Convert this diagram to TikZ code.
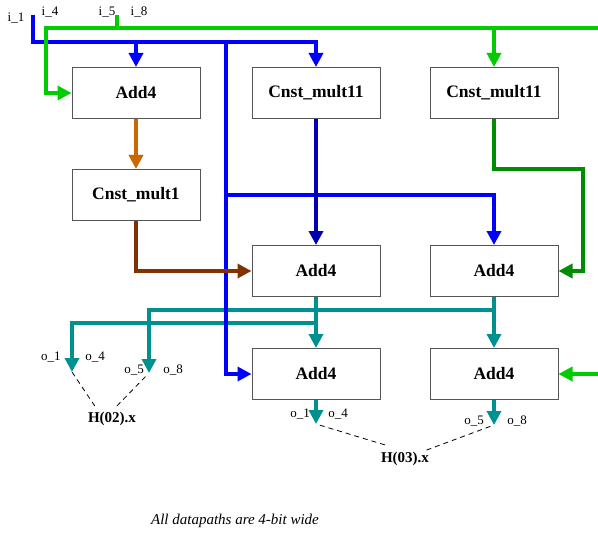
\documentclass[tikz,border=0pt]{standalone}
\usepackage{fontspec}
\setmainfont{Liberation Serif}
\usepackage{xcolor}
\usetikzlibrary{arrows.meta, positioning}
\definecolor{busblue}{HTML}{0000FF}
\definecolor{busgreen}{HTML}{00CC00}
\definecolor{busorange}{HTML}{CC6600}
\definecolor{busbrown}{HTML}{803300}
\definecolor{busnavy}{HTML}{0000B0}
\definecolor{busdkgreen}{HTML}{008C00}
\definecolor{busteal}{HTML}{009090}
\definecolor{boxline}{HTML}{555555}

\begin{document}
\begin{tikzpicture}[
    x=1pt, y=-1pt,
    node distance=50pt,
    block/.style={draw=boxline, line width=1pt, fill=white, minimum width=128pt, minimum height=51pt, inner sep=0pt, font=\fontsize{17.5}{20}\selectfont\bfseries},
    bus/.style={line width=4.5pt, draw=#1},
    busarrow/.style={bus=#1, -{Triangle[length=14pt, width=14pt]}},
    pin/.style={inner sep=0pt, font=\fontsize{13}{15}\selectfont},
    group/.style={inner sep=1pt, font=\fontsize{15}{18}\selectfont\bfseries},
    link/.style={line width=0.8pt, dash pattern=on 5pt off 4pt},
]
\path[use as bounding box] (0,0) rectangle (598,535);

% Blocks
\node[block] (add1) at (136,93) {Add4};
\node[block, below=of add1] (cm1) {Cnst\_mult1};
\node[block, right=51pt of add1] (cm11a) {Cnst\_mult11};
\node[block, right=49pt of cm11a] (cm11b) {Cnst\_mult11};
\node[block, below=126pt of cm11a] (add2) {Add4};
\node[block, below=126pt of cm11b] (add3) {Add4};
\node[block, below=51pt of add2] (add4) {Add4};
\node[block, below=51pt of add3] (add5) {Add4};

% Inputs
\node[pin] (i1) at (16,18) {i\_1};
\node[pin] (i4) at (50,12) {i\_4};
\node[pin] (i5) at (107,12) {i\_5};
\node[pin] (i8) at (139,12) {i\_8};
\coordinate (b0) at (33,15);
\coordinate (b1) at (33,42);
\coordinate (bv) at (226,42);
\coordinate (bh) at (226,195);
\coordinate (g0) at (117,15);
\coordinate (g1) at (117,28);
\coordinate (gl) at (46,28);
\coordinate (gr) at (598,28);
\coordinate (dg) at (583,169);

% Outputs
\coordinate (o1) at (72,372);
\coordinate (o5) at (149,373);
\coordinate[below=24pt of add4] (p1);
\coordinate[below=25pt of add5] (p5);
\node[pin] (l1) at (51,357) {o\_1};
\node[pin] (l4) at (95,357) {o\_4};
\node[pin] (l5) at (134,370) {o\_5};
\node[pin] (l8) at (173,370) {o\_8};
\node[pin] (m1) at (300,414) {o\_1};
\node[pin] (m4) at (338,414) {o\_4};
\node[pin] (m5) at (474,421) {o\_5};
\node[pin] (m8) at (517,421) {o\_8};
\node[group] (h02) at (112,419) {H(02).x};
\node[group] (h03) at (405,459) {H(03).x};

% Teal outputs
\draw[busarrow=busteal] (add2) -- (add4);
\draw[busarrow=busteal] (add3) -- (add5);
\draw[busarrow=busteal] (add2.south) ++(0,26) -| (o1);
\draw[busarrow=busteal] (add3.south) ++(0,13) -| (o5);
\draw[busarrow=busteal] (add4) -- (p1);
\draw[busarrow=busteal] (add5) -- (p5);

% Blue input
\draw[busarrow=busblue] (b0) -- (b1) -| (cm11a.north);
\draw[busarrow=busblue] (add1.north |- b1) -- (add1.north);
\draw[busarrow=busblue] (bv) |- (add4.west);
\draw[busarrow=busblue] (bh) -| (add3.north);

% Green input
\draw[bus=busgreen] (g0) -- (g1);
\draw[busarrow=busgreen] (gr) -- (gl) |- (add1.west);
\draw[busarrow=busgreen] (cm11b.north |- gl) -- (cm11b.north);
\draw[busarrow=busgreen] (add5.east -| gr) -- (add5.east);

% Internal datapaths
\draw[busarrow=busorange] (add1) -- (cm1);
\draw[busarrow=busbrown] (cm1.south) |- (add2.west);
\draw[busarrow=busnavy] (cm11a) -- (add2);
\draw[busarrow=busdkgreen] (cm11b.south) |- (dg) |- (add3.east);

% Groups
\draw[link, shorten >=6pt] (o1) -- (h02.150);
\draw[link, shorten <=5pt, shorten >=7pt] (o5) -- (h02.north);
\draw[link, shorten <=4pt, shorten >=19pt] (p1) -- (h03.north);
\draw[link, shorten <=4pt] (p5) -- ([xshift=19pt]h03.north);

\node[font=\fontsize{15}{18}\selectfont\itshape] (note) at (235,521) {All datapaths are 4-bit wide};

\end{tikzpicture}
\end{document}
